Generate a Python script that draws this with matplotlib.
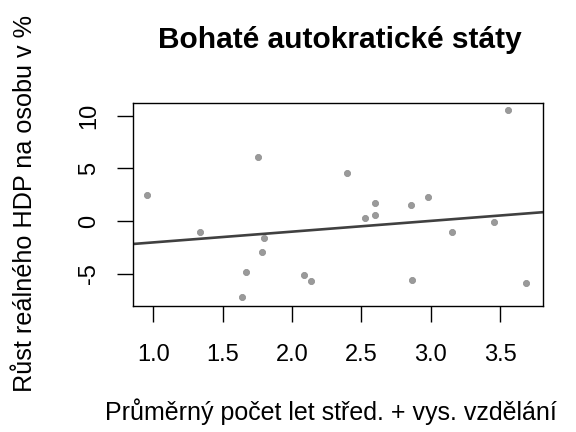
import matplotlib
matplotlib.use("Agg")
import matplotlib.pyplot as plt
import numpy as np

plt.rcParams['font.family'] = ['Liberation Sans', 'DejaVu Sans']

education = [0.955, 1.34, 1.755, 1.796, 1.784, 1.666, 1.64, 2.084, 2.139, 2.397,
             2.526, 2.598, 2.598, 2.856, 2.867, 2.983, 3.156, 3.456, 3.557, 3.685]
growth = [2.49, -1.07, 6.04, -1.6, -2.95, -4.81, -7.23, -5.15, -5.72, 4.53,
          0.25, 1.73, 0.6, 1.55, -5.57, 2.33, -1.07, -0.12, 10.54, -5.91]
fit_intercept = -3.04
fit_slope = 1.02

xticks = [1.0, 1.5, 2.0, 2.5, 3.0, 3.5]
xticklabels = ["1.0", "1.5", "2.0", "2.5", "3.0", "3.5"]
yticks = [-5, 0, 5, 10]
yticklabels = ["-5", "0", "5", "10"]

title = "Bohaté autokratické státy"
xlabel = "Průměrný počet let střed. + vys. vzdělání"
ylabel = "Růst reálného HDP na osobu v %"

fig = plt.figure(figsize=(5.76, 4.32), dpi=100)
ax = fig.add_axes([133/576, 1-306/432, (543-133)/576, (306-103)/432])

ax.scatter(education, growth, s=20, c='#9a9a9a', edgecolors='#8a8a8a', linewidths=0.5, zorder=3)
ax.axline((0, fit_intercept), slope=fit_slope, color='#404040', lw=1.9, zorder=2)

ax.set_xlim(0.854, 3.81)
ax.set_ylim(-8.05, 11.2)
ax.set_xticks(xticks)
ax.set_xticklabels(xticklabels)
ax.set_yticks(yticks)
ax.set_yticklabels(yticklabels, rotation=90, va='center')
ax.tick_params(axis='both', direction='out', length=11.5, width=1.0, labelsize=17, pad=12, color='black')
ax.tick_params(axis='x', pad=16)
for s in ax.spines.values():
    s.set_linewidth(1.0)
    s.set_color('black')

fig.text(340/576, 1-40/432, title, ha='center', va='center', fontsize=21.5, fontweight='bold')
fig.text(331/576, 1-412/432, xlabel, ha='center', va='center', fontsize=18)
fig.text(25/576, 1-203/432, ylabel, ha='center', va='center', rotation=90, fontsize=18.2)

fig.savefig("out.png", dpi=100)
